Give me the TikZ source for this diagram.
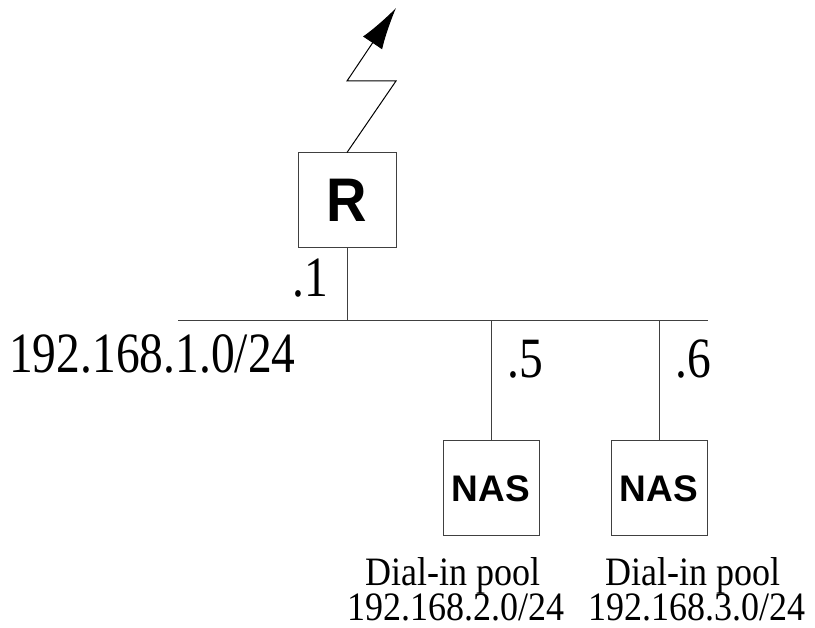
\documentclass[tikz,border=0pt]{standalone}
\usepackage{fontspec}
\usepackage{graphicx}
\setmainfont{Liberation Serif}
\newfontfamily\boxfont{Liberation Sans}
\usetikzlibrary{arrows.meta,positioning}

% tall glyphs, as in the drawing
\newcommand{\tallt}[1]{\scalebox{1}[1.2]{#1}}
\newcommand{\tallp}[1]{\scalebox{1}[1.12]{#1}}
\newcommand{\tallr}[1]{\scalebox{1}[1.1]{#1}}

\tikzset{
  devbox/.style={draw=black!75, line width=1pt, minimum width=97pt, minimum height=95pt, inner sep=0pt},
  wire/.style={draw=black!75, line width=1pt},
  addr/.style={font=\fontsize{47.5}{50}\selectfont, inner sep=0pt},
  pool/.style={font=\fontsize{36}{38}\selectfont, inner sep=0pt, anchor=base}
}

\begin{document}
\begin{tikzpicture}[x=1pt, y=-1pt]
    \useasboundingbox (0,0) rectangle (815,628);

    % Router and its uplink
    \node[devbox, minimum width=98pt] (router) at (347,200.5) {\boxfont\bfseries\fontsize{56}{60}\selectfont\tallr{R}};
    \coordinate (bend1) at (396,81);
    \coordinate (bend2) at (347,81);
    \coordinate (uplink) at (396,8);
    \draw[line width=1pt, -{Latex[length=42pt, width=23pt]}] (router.north) -- (bend1) -- (bend2) -- (uplink);

    % Shared segment
    \coordinate (busL) at (178,321);
    \coordinate (busR) at (708,321);
    \coordinate (tapR) at (347,321);
    \coordinate (tap1) at (491,321);
    \coordinate (tap2) at (659,321);
    \draw[wire] (busL) -- (busR);
    \draw[wire] (router.south) -- (tapR);

    % Access servers
    \node[devbox, minimum width=96pt] (nas1) at (491,488.5) {\boxfont\bfseries\fontsize{37}{40}\selectfont NAS};
    \node[devbox, minimum width=96pt] (nas2) at (659,488.5) {\boxfont\bfseries\fontsize{37}{40}\selectfont NAS};
    \draw[wire] (tap1) -- (nas1.north);
    \draw[wire] (tap2) -- (nas2.north);

    % Addresses
    \node[addr, anchor=base west] (lannet) at (9,373) {\tallt{192.168.1.0/24}};
    \node[addr, anchor=base west] (ipr) at (292,297) {\tallt{.1}};
    \node[addr, anchor=base west] (ip1) at (507,378) {\tallt{.5}};
    \node[addr, anchor=base west] (ip2) at (675,378) {\tallt{.6}};

    % Dial-in pools
    \node[pool] (pool1a) at (453,586) {\tallp{Dial-in pool}};
    \node[pool] (pool1b) at (456,620) {\tallp{192.168.2.0/24}};
    \node[pool] (pool2a) at (693,586) {\tallp{Dial-in pool}};
    \node[pool] (pool2b) at (697,620) {\tallp{192.168.3.0/24}};
\end{tikzpicture}
\end{document}
